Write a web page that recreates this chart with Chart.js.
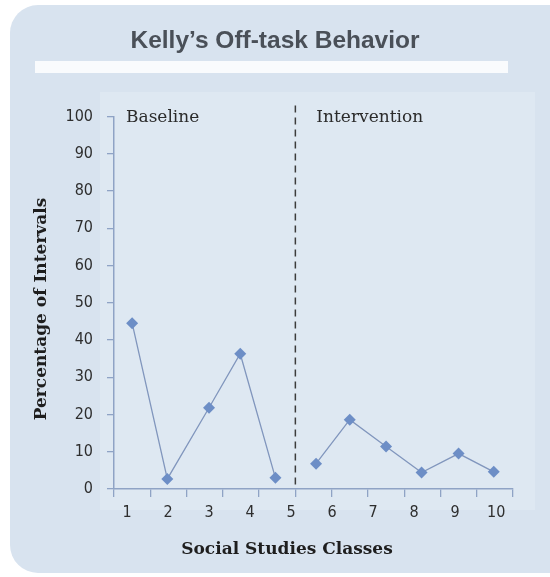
<!DOCTYPE html>
<html>
<head>
<meta charset="utf-8">
<script src="https://cdn.jsdelivr.net/npm/chart.js@4.4.0/dist/chart.umd.min.js"></script>
<style>
  html, body { margin: 0; padding: 0; background: #fff; }
  #wrap { width: 550px; height: 577px; }
</style>
</head>
<body>
<div id="wrap"><canvas id="chart"></canvas></div>
<script>
// class numbers shown under the axis
var classLabels = [1, 2, 3, 4, 5, 6, 7, 8, 9, 10];

// baseline phase (x = position along the axis, y = % of intervals)
var baselineX = [0.5, 1.47, 2.62, 3.48, 4.45];
var baselineY = [44.5, 2.7, 21.8, 36.3, 3.0];

// intervention phase
var interventionX = [5.57, 6.5, 7.5, 8.48, 9.5, 10.47];
var interventionY = [6.8, 18.6, 11.4, 4.4, 9.5, 4.6];

var phaseLabels = ['Baseline', 'Intervention'];
var phaseChangeAt = 5;
var xTitle = 'Social Studies Classes';
var yTitle = 'Percentage of Intervals';

var axisColor = '#8fa3c5';
var pointColor = '#6d8ec6';
var lineColor = '#8196bd';
var tickFont = { family: '"DejaVu Sans Condensed", Roboto, sans-serif', size: 16 };

function toPoints(xs, ys) {
  return xs.map(function (x, i) { return { x: x, y: ys[i] }; });
}

// panel background, white bar under the title
var panelPlugin = {
  id: 'panel',
  beforeDraw: function (chart) {
    var ctx = chart.ctx;
    ctx.save();
    ctx.fillStyle = '#ffffff';
    ctx.fillRect(0, 0, chart.width, chart.height);
    ctx.fillStyle = '#d8e3ef';
    ctx.beginPath();
    ctx.roundRect(10, 5, 570, 568, 28);
    ctx.fill();
    ctx.fillStyle = '#dee8f2';
    ctx.fillRect(100, 92, 435, 418);
    ctx.fillStyle = '#f9fbfd';
    ctx.fillRect(35, 61, 473, 12);
    ctx.restore();
  }
};

// phase change line, phase names and axis titles
var phasePlugin = {
  id: 'phase',
  afterDraw: function (chart) {
    var ctx = chart.ctx;
    var xs = chart.scales.x;
    var area = chart.chartArea;
    var px = xs.getPixelForValue(phaseChangeAt);
    ctx.save();
    ctx.strokeStyle = '#3c3c3c';
    ctx.lineWidth = 1.5;
    ctx.setLineDash([7, 5]);
    ctx.beginPath();
    ctx.moveTo(px, area.top - 11);
    ctx.lineTo(px, area.bottom);
    ctx.stroke();
    ctx.setLineDash([]);

    ctx.fillStyle = '#2b2b2b';
    ctx.font = '17px "DejaVu Serif"';
    ctx.textBaseline = 'middle';
    ctx.textAlign = 'left';
    ctx.fillText(phaseLabels[0], area.left + 12, area.top + 1);
    ctx.fillText(phaseLabels[1], px + 21, area.top + 1);

    ctx.fillStyle = '#1e1e1e';
    ctx.font = 'bold 17px "DejaVu Serif"';
    ctx.textAlign = 'center';
    ctx.fillText(xTitle, 287, 550);
    ctx.translate(42, 309);
    ctx.rotate(-Math.PI / 2);
    ctx.fillText(yTitle, 0, 0);
    ctx.restore();
  }
};

new Chart(document.getElementById('chart'), {
  type: 'line',
  data: {
    datasets: [{
      label: phaseLabels[0],
      data: toPoints(baselineX, baselineY),
      borderColor: lineColor,
      borderWidth: 1.3,
      pointStyle: 'rectRot',
      pointRadius: 6,
      pointBackgroundColor: pointColor,
      pointBorderWidth: 0,
      tension: 0
    }, {
      label: phaseLabels[1],
      data: toPoints(interventionX, interventionY),
      borderColor: lineColor,
      borderWidth: 1.3,
      pointStyle: 'rectRot',
      pointRadius: 6,
      pointBackgroundColor: pointColor,
      pointBorderWidth: 0,
      tension: 0
    }]
  },
  options: {
    responsive: true,
    maintainAspectRatio: false,
    animation: false,
    layout: { padding: 0 },
    plugins: {
      legend: { display: false },
      tooltip: { enabled: false },
      title: {
        display: true,
        text: 'Kelly\u2019s Off-task Behavior',
        color: '#4a5058',
        font: { family: '"Liberation Sans"', size: 24.5, weight: 'bold' },
        padding: { top: 27, bottom: 60 }
      }
    },
    scales: {
      x: {
        type: 'linear',
        position: 'bottom',
        min: 0,
        max: 11,
        ticks: { display: false, stepSize: 1 },
        grid: { drawOnChartArea: false, drawTicks: true, tickLength: 8, color: axisColor, lineWidth: 1.3 },
        border: { color: axisColor, width: 1.5 },
        afterFit: function (s) { s.height = 8; }
      },
      x2: {
        type: 'linear',
        position: 'bottom',
        min: 0.68,
        max: 10.41,
        bounds: 'data',
        afterBuildTicks: function (s) {
          s.ticks = classLabels.map(function (v) { return { value: v }; });
        },
        ticks: {
          color: '#2e2e2e',
          padding: 6,
          maxRotation: 0,
          autoSkip: false,
          font: tickFont
        },
        grid: { display: false, drawTicks: false },
        border: { display: false },
        afterFit: function (s) { s.height = 80; }
      },
      y: {
        min: 0,
        max: 100,
        ticks: {
          stepSize: 10,
          color: '#2e2e2e',
          padding: 14,
          font: tickFont
        },
        grid: { drawOnChartArea: false, drawTicks: true, tickLength: 7, color: axisColor, lineWidth: 1.3 },
        border: { color: axisColor, width: 1.5 },
        afterFit: function (s) { s.width = 114; }
      },
      // empty right margin so the title centres on the whole panel
      yRight: {
        position: 'right',
        display: true,
        ticks: { display: false },
        grid: { display: false, drawTicks: false },
        border: { display: false },
        afterFit: function (s) { s.width = 37; }
      }
    }
  },
  plugins: [panelPlugin, phasePlugin]
});
</script>
</body>
</html>
